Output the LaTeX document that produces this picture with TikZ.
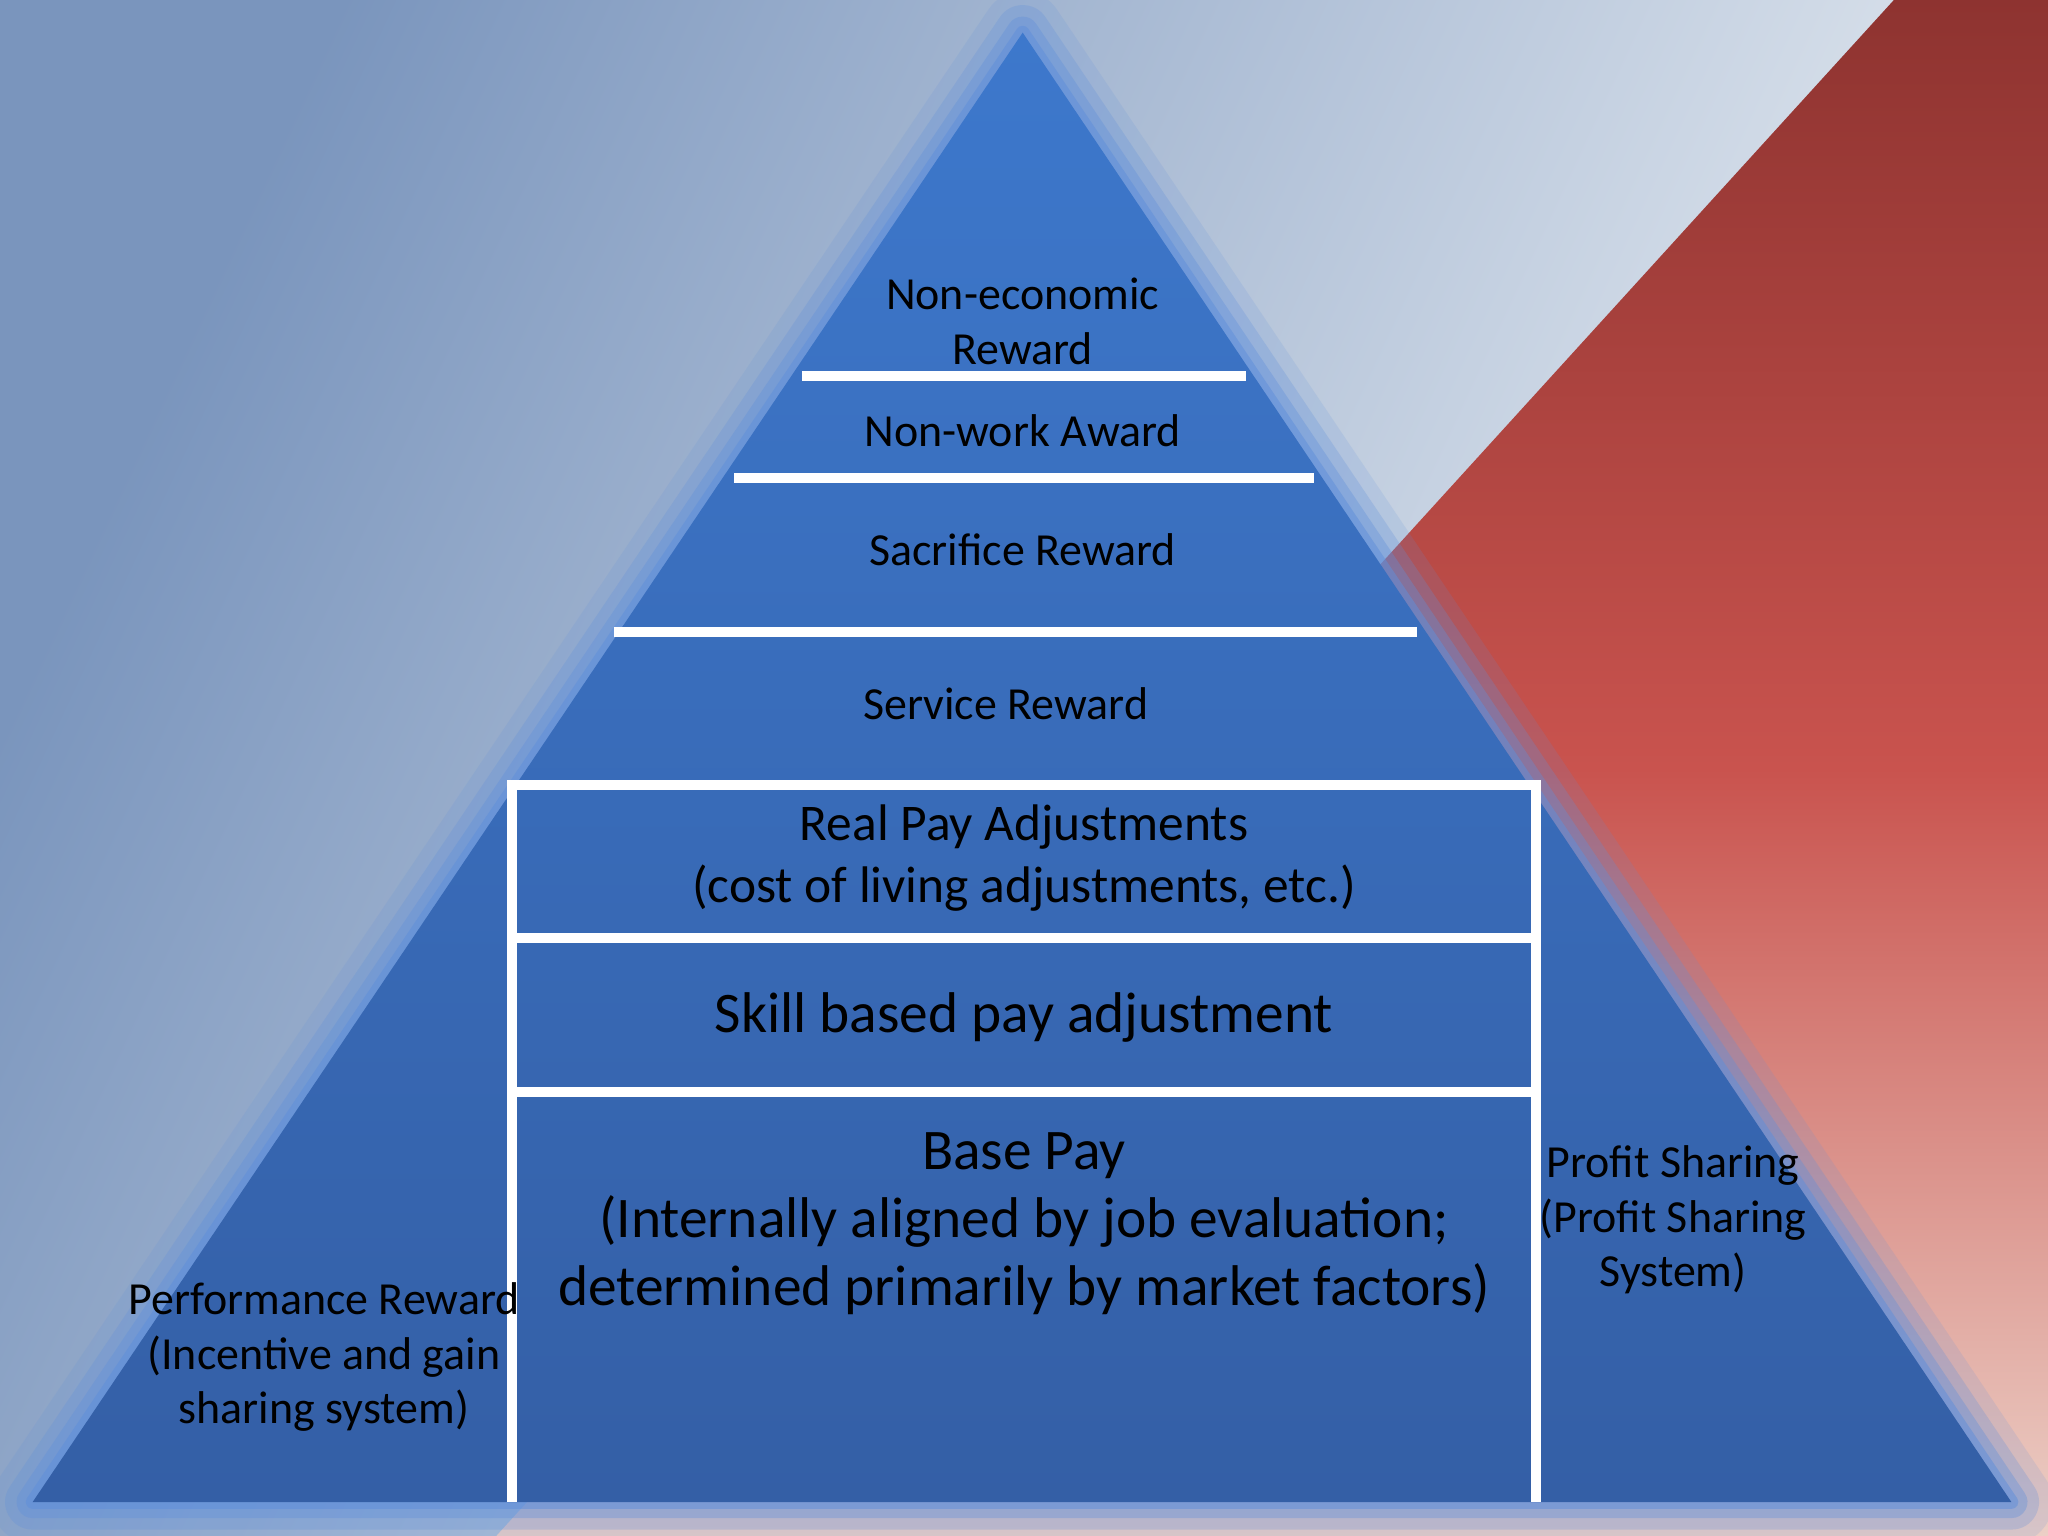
\documentclass[tikz,border=0pt]{standalone}
\usepackage{fontspec}
\setmainfont{Carlito}
\definecolor{pyr}{HTML}{3D78CC}
\definecolor{pyrd}{HTML}{345FA6}
\definecolor{bgl}{HTML}{7A95BD}
\definecolor{bgm}{HTML}{B8CADB}
\definecolor{bgw}{HTML}{F2F5F7}
\definecolor{rdk}{HTML}{8E3330}
\definecolor{rmd}{HTML}{C9534E}
\definecolor{rlt}{HTML}{ECCFC6}
\definecolor{glow}{HTML}{5F8FDA}
\begin{document}
\begin{tikzpicture}[x=0.01cm,y=-0.01cm,
  wl/.style={draw=white,line width=2.2pt},
  gl/.style={draw=glow,line join=round},
  lab/.style={align=center,font=\fontsize{10pt}{11.8pt}\selectfont,inner sep=0pt},
  labm/.style={align=center,font=\fontsize{11.2pt}{13.4pt}\selectfont,inner sep=0pt},
  labl/.style={align=center,font=\fontsize{12.5pt}{14.8pt}\selectfont,inner sep=0pt}]
\useasboundingbox (0,0) rectangle (1568,1176);
\shade[left color=bgl, middle color=bgm, right color=bgw, shading angle=65] (0,0) rectangle (1568,1176);
\shade[shading angle=-40, top color=rdk, bottom color=rlt, middle color=rmd] (1450,0) -- (1568,0) -- (1568,1176) -- (380,1176) -- cycle;
\coordinate (apex) at (783,25); \coordinate (br) at (1540,1150); \coordinate (bl) at (25,1150);
\foreach \w/\o in {18/0.15,12/0.25,7/0.35,3/0.5}
  \draw[gl,line width=\w pt,opacity=\o] (apex) -- (br) -- (bl) -- cycle;
\shade[top color=pyr, bottom color=pyrd] (apex) -- (br) -- (bl) -- cycle;
\draw[wl] (614,288) coordinate (a1) -- (954,288) coordinate (a2);
\draw[wl] (562,366) coordinate (b1) -- (1006,366) coordinate (b2);
\draw[wl] (470,484) coordinate (c1) -- (1085,484) coordinate (c2);
\draw[wl] (392,1150) coordinate (r1) -- (392,601) coordinate (r2) -- (1176,601) coordinate (r3) -- (1176,1150) coordinate (r4);
\draw[wl] (392,718) coordinate (d1) -- (1176,718) coordinate (d2);
\draw[wl] (392,836) coordinate (e1) -- (1176,836) coordinate (e2);
\node[lab] (n1) at (783,246) {Non-economic\\Reward};
\node[lab] (n2) at (783,330) {Non-work Award};
\node[lab] (n3) at (783,421) {Sacrifice Reward};
\node[lab] (n4) at (770,539) {Service Reward};
\node[labm] (n5) at (784,657) {Real Pay Adjustments\\(cost of living adjustments, etc.)};
\node[labl] (n6) at (784,779) {Skill based pay adjustment};
\node[labl] (n7) at (784,937) {Base Pay\\(Internally aligned by job evaluation;\\determined primarily by market factors)};
\node[lab] (n8) at (1281,934) {Profit Sharing\\(Profit Sharing\\System)};
\node[lab] (n9) at (248,1039) {Performance Reward\\(Incentive and gain\\sharing system)};
\end{tikzpicture}
\end{document}
